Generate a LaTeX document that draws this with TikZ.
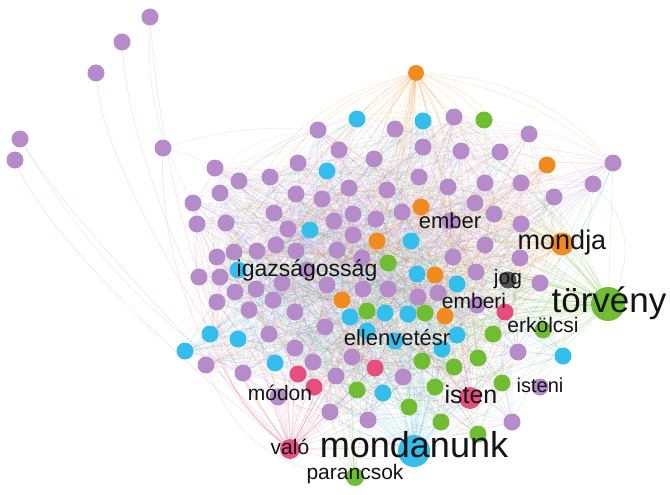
\documentclass[tikz,border=0pt]{standalone}
\usepackage{fontspec}
\setmainfont{Liberation Sans}
\usetikzlibrary{backgrounds}

\definecolor{lila}{RGB}{181,139,201}
\definecolor{kek}{RGB}{52,190,236}
\definecolor{zold}{RGB}{112,188,50}
\definecolor{narancs}{RGB}{241,139,32}
\definecolor{rozsa}{RGB}{232,78,125}
\definecolor{szurke}{RGB}{88,84,84}

\tikzset{
  csucs/.style={circle, fill=#1, inner sep=0pt, minimum size=17pt},
  el/.style={#1, line width=0.3pt, draw opacity=0.2},
  cimke/.style={font=\fontsize{#1}{#1}\selectfont, text=black!92, inner sep=0pt, anchor=base}
}

% x/y/colour of the unlabelled nodes
\def\csucsok{%
318/130/lila,357/119/kek,395/129/lila,423/121/kek,454/117/lila,484/120/zold,529/134/lila,%
298/163/lila,327/171/kek,339/150/lila,374/159/lila,423/147/lila,461/151/lila,500/152/lila,547/165/narancs,613/163/lila,%
215/168/lila,239/181/lila,270/177/lila,220/193/lila,193/203/lila,296/194/lila,322/199/lila,349/188/lila,387/190/lila,419/177/lila,448/187/lila,485/183/lila,521/183/lila,554/197/lila,593/184/lila,%
197/224/lila,226/223/lila,274/213/lila,288/229/lila,310/230/kek,334/221/lila,353/214/lila,376/219/lila,402/212/lila,421/207/narancs,475/203/lila,494/214/lila,521/224/lila,%
217/257/lila,234/252/lila,257/251/lila,276/245/lila,296/251/lila,353/235/lila,377/241/narancs,411/241/kek,485/245/lila,453/257/lila,520/258/lila,337/250/lila,362/258/lila,%
199/277/lila,220/277/lila,238/270/kek,235/292/lila,256/289/lila,282/283/lila,327/285/lila,388/263/zold,417/274/kek,435/275/narancs,476/272/lila,540/283/lila,457/284/kek,%
217/302/lila,249/310/lila,273/300/lila,295/312/lila,342/300/narancs,363/289/lila,388/289/lila,418/297/lila,438/293/lila,505/312/rozsa,%
210/334/kek,238/339/kek,269/334/lila,325/327/lila,350/317/kek,367/311/zold,385/313/kek,408/314/kek,425/313/zold,445/316/narancs,493/334/zold,367/331/kek,457/335/kek,%
185/351/kek,206/365/lila,243/373/lila,275/363/kek,295/348/lila,313/362/lila,352/357/lila,442/349/kek,518/352/lila,563/356/kek,422/361/zold,454/367/zold,478/358/zold,336/376/lila,298/374/rozsa,375/368/rozsa,403/377/lila,%
314/387/rozsa,357/390/zold,383/393/kek,435/387/zold,502/383/zold,%
330/412/lila,368/420/lila,409/407/zold,441/422/zold,512/422/lila,478/434/zold,%
450/221/lila,307/270/lila,477/305/lila}

\begin{document}
\begin{tikzpicture}[x=1pt,y=-1pt]
\pgfmathsetseed{4242}
\useasboundingbox (0,0) rectangle (670,495);

% outliers on the left
\foreach \x/\y [count=\i] in {150/17,122/42,96/73,20/139,15/160,163/148}
  \node[csucs=lila] (ki\i) at (\x,\y) {};

% the mass of nodes
\foreach \x/\y/\c [count=\i] in \csucsok {
  \node[csucs=\c] (v\i) at (\x,\y) {};
  \xdef\nv{\i}
}

% labelled nodes
\node[csucs=narancs, minimum size=16pt] (fent) at (416,73) {};
\node[csucs=zold, minimum size=34pt] (torveny) at (608,304) {};
\node[csucs=kek, minimum size=32pt] (mondanunk) at (414,451) {};
\node[csucs=narancs, minimum size=23pt] (mondja) at (562,244) {};
\node[csucs=rozsa, minimum size=22pt] (isten) at (470,398) {};
\node[csucs=rozsa, minimum size=20pt] (valo) at (290,449) {};
\node[csucs=zold, minimum size=18pt] (parancsok) at (355,477) {};
\node[csucs=szurke] (jog) at (508,280) {};
\node[csucs=zold] (erkolcsi) at (543,330) {};
\node[csucs=lila] (isteni) at (540,387) {};
\node[csucs=kek] (ellenvetes) at (395,341) {};
\node[csucs=lila] (modon) at (278,397) {};

% labels
\node[cimke=35] (torveny-t) at (609,312) {törvény};
\node[cimke=36] (mondanunk-t) at (414,457) {mondanunk};
\node[cimke=27] (mondja-t) at (562,249) {mondja};
\node[cimke=25] (isten-t) at (471,403) {isten};
\node[cimke=23] (igazsag-t) at (307,276) {igazságosság};
\node[cimke=22] (ember-t) at (450,228) {ember};
\node[cimke=21] (emberi-t) at (474,308) {emberi};
\node[cimke=21] (jog-t) at (508,284) {jog};
\node[cimke=21] (erkolcsi-t) at (543,332) {erkölcsi};
\node[cimke=22] (ellenvetes-t) at (397,345) {ellenvetésr};
\node[cimke=20] (isteni-t) at (540,392) {isteni};
\node[cimke=21] (modon-t) at (280,400) {módon};
\node[cimke=21] (valo-t) at (290,454) {való};
\node[cimke=21] (parancsok-t) at (355,479) {parancsok};

\begin{scope}[on background layer]
  \fill[white] (0,0) rectangle (670,495);
  % random edges inside the cluster
  \foreach \x/\y/\c [count=\i] in \csucsok {
    \foreach \k in {1,...,12} {
      \pgfmathtruncatemacro\j{random(1,\nv)}
      \pgfmathtruncatemacro\b{random(-30,30)}
      \ifnum\j=\i\else
        \draw[el=\c] (v\i) to[bend left=\b] (v\j);
      \fi
    }
  }
  % fans of the hubs
  \foreach \h/\c/\db in {fent/narancs/50,torveny/zold/70,mondanunk/kek/55,valo/rozsa/45,mondja/narancs/35,isten/rozsa/30,parancsok/zold/15} {
    \foreach \k in {1,...,\db} {
      \pgfmathtruncatemacro\j{random(1,\nv)}
      \pgfmathtruncatemacro\b{random(-35,35)}
      \draw[el=\c, draw opacity=0.3] (\h) to[bend left=\b] (v\j);
    }
  }
  % long arcs of the outliers
  \draw[el=rozsa, draw opacity=0.3] (ki1) .. controls (160,150) and (195,330) .. (valo);
  \draw[el=rozsa, draw opacity=0.3] (ki2) .. controls (130,160) and (205,330) .. (valo);
  \draw[el=rozsa, draw opacity=0.3] (ki3) .. controls (105,170) and (200,320) .. (valo);
  \draw[el=rozsa, draw opacity=0.3] (ki4) .. controls (70,220) and (200,350) .. (valo);
  \draw[el=rozsa, draw opacity=0.3] (ki5) .. controls (50,240) and (190,370) .. (valo);
  \draw[el=rozsa, draw opacity=0.3] (ki6) .. controls (160,250) and (200,380) .. (valo);
  \draw[el=lila, draw opacity=0.3] (ki6) to[bend left=8] (v17);
  \draw[el=lila, draw opacity=0.3] (ki6) to[bend left=10] (v1);
  \draw[el=lila, draw opacity=0.3] (ki1) to[bend right=15] (v21);
  \draw[el=lila, draw opacity=0.3] (ki4) to[bend right=20] (mondanunk);
\end{scope}
\end{tikzpicture}
\end{document}
